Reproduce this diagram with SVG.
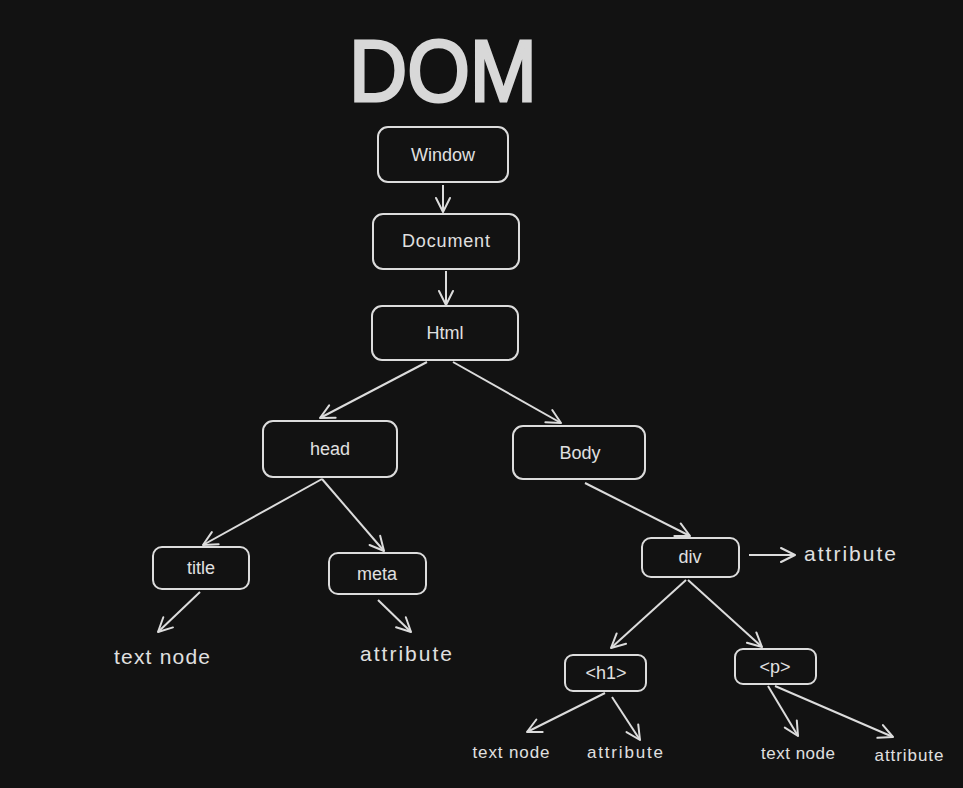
<svg xmlns="http://www.w3.org/2000/svg" width="963" height="788" viewBox="0 0 963 788">
<defs>
<style>
.box{fill:#121212;stroke:#dcdcdc;stroke-width:2}
.lbl{font-family:"Liberation Sans",Arial,sans-serif;font-size:18px;fill:#e0e0e0;text-anchor:middle;dominant-baseline:central}
.free{font-family:"Liberation Sans",Arial,sans-serif;font-size:21px;fill:#e0e0e0;text-anchor:middle;dominant-baseline:central}
.small{font-family:"Liberation Sans",Arial,sans-serif;font-size:17px;fill:#e0e0e0;text-anchor:middle;dominant-baseline:central}
.edge{stroke:#dcdcdc;stroke-width:2;fill:none;marker-end:url(#arr)}
</style>
<marker id="arr" viewBox="0 0 20 20" refX="18" refY="10" markerWidth="20" markerHeight="20" markerUnits="userSpaceOnUse" orient="auto">
<polyline points="4,3 18,10 4,17" fill="none" stroke="#dcdcdc" stroke-width="2" stroke-linecap="round" stroke-linejoin="round"/>
</marker>
</defs>
<rect width="963" height="788" fill="#121212"/>
<text x="443" y="70" font-family="Liberation Sans,Arial,sans-serif" font-size="88" fill="#d8d8d8" stroke="#d8d8d8" stroke-width="3" text-anchor="middle" dominant-baseline="central" textLength="188" lengthAdjust="spacingAndGlyphs">DOM</text>
<g id="connectors">
<line class="edge" x1="443" y1="185" x2="443" y2="212"/>
<line class="edge" x1="446" y1="271" x2="446" y2="305"/>
<line class="edge" x1="427" y1="362" x2="320" y2="418"/>
<line class="edge" x1="453" y1="362" x2="561" y2="423"/>
<line class="edge" x1="322" y1="479" x2="203" y2="545"/>
<line class="edge" x1="322" y1="479" x2="384" y2="551"/>
<line class="edge" x1="585" y1="483" x2="690" y2="536"/>
<line class="edge" x1="200" y1="592" x2="158" y2="632"/>
<line class="edge" x1="378" y1="600" x2="411" y2="632"/>
<line class="edge" x1="749" y1="555" x2="795" y2="555"/>
<line class="edge" x1="686" y1="580" x2="611" y2="648"/>
<line class="edge" x1="688" y1="580" x2="762" y2="647"/>
<line class="edge" x1="605" y1="693" x2="527" y2="732"/>
<line class="edge" x1="612" y1="697" x2="640" y2="740"/>
<line class="edge" x1="768" y1="686" x2="798" y2="736"/>
<line class="edge" x1="775" y1="686" x2="893" y2="737"/>
</g>
<g id="window"><rect class="box" x="378" y="127" width="130" height="55" rx="10"/><text class="lbl" x="443" y="155">Window</text></g>
<g id="document"><rect class="box" x="373" y="214" width="146" height="55" rx="10"/><text class="lbl" x="446" y="241" textLength="88">Document</text></g>
<g id="html"><rect class="box" x="372" y="306" width="146" height="54" rx="10"/><text class="lbl" x="445" y="333">Html</text></g>
<g id="head"><rect class="box" x="263" y="421" width="134" height="56" rx="10"/><text class="lbl" x="330" y="449">head</text></g>
<g id="body"><rect class="box" x="513" y="426" width="132" height="53" rx="10"/><text class="lbl" x="580" y="453">Body</text></g>
<g id="title"><rect class="box" x="153" y="547" width="96" height="42" rx="9"/><text class="lbl" x="201" y="568">title</text></g>
<g id="meta"><rect class="box" x="329" y="553" width="97" height="41" rx="9"/><text class="lbl" x="377" y="574">meta</text></g>
<g id="div"><rect class="box" x="642" y="538" width="97" height="39" rx="9"/><text class="lbl" x="690" y="557">div</text></g>
<g id="h1"><rect class="box" x="565" y="655" width="81" height="36" rx="8"/><text class="lbl" x="606" y="673">&lt;h1&gt;</text></g>
<g id="p"><rect class="box" x="735" y="649" width="81" height="35" rx="8"/><text class="lbl" x="775" y="667">&lt;p&gt;</text></g>
<g id="labels">
<text class="free" x="162" y="656" textLength="96">text node</text>
<text class="free" x="406" y="653" textLength="92">attribute</text>
<text class="free" x="850" y="553" textLength="92">attribute</text>
<text class="small" x="511" y="752" textLength="77">text node</text>
<text class="small" x="625" y="752" textLength="76">attribute</text>
<text class="small" x="798" y="753" textLength="74">text node</text>
<text class="small" x="909" y="755" textLength="69">attribute</text>
</g>
</svg>
